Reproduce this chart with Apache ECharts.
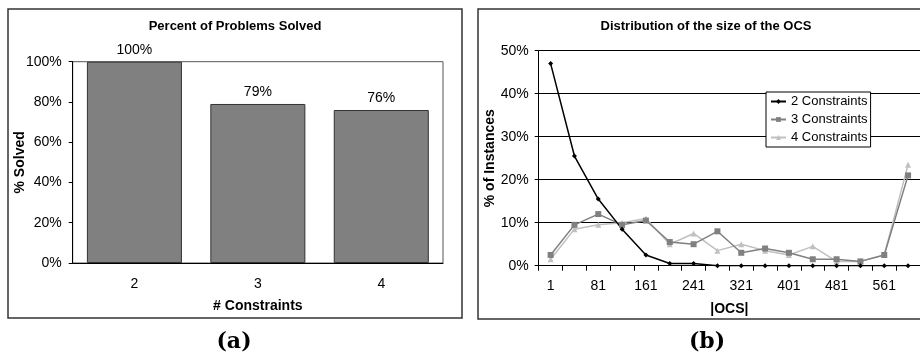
<!DOCTYPE html>
<html>
<head>
<meta charset="utf-8">
<script src="https://cdn.jsdelivr.net/npm/echarts@6/dist/echarts.min.js"></script>
<style>
  html, body { margin: 0; padding: 0; background: #fff; }
  #chart { width: 920px; height: 353px; }
</style>
</head>
<body>
<div id="chart"></div>
<script>
    // panel (a)
    const constraints = ['2', '3', '4']
    const solved = [100, 79, 76]

    // panel (b)
    const ocsSizes = ['1', '41', '81', '121', '161', '201', '241', '281', '321', '361', '401', '441', '481', '521', '561', '601']
    const twoConstraints = [47, 25.5, 15.5, 8.5, 2.5, 0.5, 0.5, 0, 0, 0, 0, 0, 0, 0, 0, 0]
    const threeConstraints = [2.5, 9.5, 12, 9.5, 10.5, 5.5, 5, 8, 3, 4, 3, 1.5, 1.5, 1, 2.5, 21]
    const fourConstraints = [1.5, 8.5, 9.5, 10, 11, 5, 7.5, 3.5, 5, 3.5, 2.5, 4.5, 1, 1, 2.5, 23.5]

    const font = 'Liberation Sans'
    const tickText = {color: '#000', fontFamily: font, fontSize: 14}
    const nameText = {color: '#000', fontFamily: font, fontSize: 14, fontWeight: 'bold'}
    const titleText = {fontFamily: font, fontSize: 13, fontWeight: 'bold', color: '#000'}

    const chart = echarts.init(document.getElementById('chart'), null, {renderer: 'canvas'})

    const option = {
        animation: false,
        backgroundColor: '#fff',
        title: [{
            text: 'Percent of Problems Solved',
            left: 235, top: 20, padding: 0, textAlign: 'center',
            textStyle: titleText
        }, {
            text: 'Distribution of the size of the OCS',
            left: 706, top: 20, padding: 0, textAlign: 'center',
            textStyle: titleText
        }],
        legend: {
            data: ['2 Constraints', '3 Constraints', '4 Constraints'],
            orient: 'vertical',
            left: 766, top: 92,
            padding: [3, 3, 3, 4],
            itemGap: 5,
            itemWidth: 15,
            itemHeight: 6,
            backgroundColor: '#fff',
            borderColor: '#000',
            borderWidth: 1,
            borderRadius: 0,
            textStyle: {fontFamily: font, fontSize: 13, color: '#000', lineHeight: 13}
        },
        grid: [
            {left: 72.7, top: 61.7, width: 370.3, height: 201.3, show: true,
             borderColor: '#555', borderWidth: 1, backgroundColor: '#fff'},
            {left: 538.7, top: 50.7, width: 391.2, height: 215}
        ],
        xAxis: [{
            type: 'category', gridIndex: 0, data: constraints,
            name: '# Constraints', nameLocation: 'middle', nameGap: 36, nameTextStyle: nameText,
            nameMoveOverlap: false,
            axisLine: {lineStyle: {color: '#000'}},
            axisTick: {show: false},
            axisLabel: Object.assign({margin: 14}, tickText)
        }, {
            type: 'category', gridIndex: 1, data: ocsSizes, boundaryGap: true,
            name: '|OCS|', nameLocation: 'middle', nameGap: 36, nameTextStyle: nameText,
            nameMoveOverlap: false,
            axisLine: {lineStyle: {color: '#000'}},
            axisTick: {show: true, interval: 0, length: 5, lineStyle: {color: '#000'}},
            axisLabel: Object.assign({interval: 1, margin: 13}, tickText)
        }],
        yAxis: [{
            type: 'value', gridIndex: 0, min: 0, max: 100, interval: 20,
            name: '% Solved', nameLocation: 'middle', nameGap: 46, nameTextStyle: nameText,
            nameMoveOverlap: false,
            axisLine: {show: true, lineStyle: {color: '#000'}},
            axisTick: {show: true, length: 4, lineStyle: {color: '#000'}},
            splitLine: {show: false},
            axisLabel: Object.assign({formatter: '{value}%', margin: 11}, tickText)
        }, {
            type: 'value', gridIndex: 1, min: 0, max: 50, interval: 10,
            name: '% of Instances', nameLocation: 'middle', nameGap: 42, nameTextStyle: nameText,
            nameMoveOverlap: false,
            axisLine: {show: true, lineStyle: {color: '#000'}},
            axisTick: {show: true, length: 4, lineStyle: {color: '#000'}},
            splitLine: {lineStyle: {color: '#000', width: 1}},
            axisLabel: Object.assign({formatter: '{value}%', margin: 10}, tickText)
        }],
        series: [{
            type: 'bar', xAxisIndex: 0, yAxisIndex: 0, data: solved,
            barCategoryGap: '23%',
            itemStyle: {color: '#808080', borderColor: '#333', borderWidth: 1},
            label: {show: true, position: 'top', distance: 5, formatter: '{c}%',
                    fontFamily: font, fontSize: 14, color: '#000'}
        }, {
            name: '4 Constraints', type: 'line', xAxisIndex: 1, yAxisIndex: 1,
            data: fourConstraints, symbol: 'triangle', symbolSize: 6,
            lineStyle: {color: '#c0c0c0', width: 1.5}, itemStyle: {color: '#c0c0c0'}
        }, {
            name: '3 Constraints', type: 'line', xAxisIndex: 1, yAxisIndex: 1,
            data: threeConstraints, symbol: 'rect', symbolSize: 6,
            lineStyle: {color: '#808080', width: 1.5}, itemStyle: {color: '#808080'}
        }, {
            name: '2 Constraints', type: 'line', xAxisIndex: 1, yAxisIndex: 1,
            data: twoConstraints, symbol: 'diamond', symbolSize: 5,
            lineStyle: {color: '#000', width: 1.5}, itemStyle: {color: '#000'}
        }],
        graphic: [{
            type: 'rect', shape: {x: 8, y: 9, width: 454, height: 309},
            style: {fill: null, stroke: '#333', lineWidth: 1.5}, z: 100
        }, {
            type: 'rect', shape: {x: 478, y: 9, width: 460, height: 310},
            style: {fill: null, stroke: '#333', lineWidth: 1.5}, z: 100
        }, {
            type: 'text', x: 234, y: 342,
            style: {text: '(a)', font: 'bold 22px "DejaVu Serif"', fill: '#000',
                    textAlign: 'center', textVerticalAlign: 'middle'}
        }, {
            type: 'text', x: 707, y: 342,
            style: {text: '(b)', font: 'bold 22px "DejaVu Serif"', fill: '#000',
                    textAlign: 'center', textVerticalAlign: 'middle'}
        }]
    }

    chart.setOption(option)
</script>
</body>
</html>
